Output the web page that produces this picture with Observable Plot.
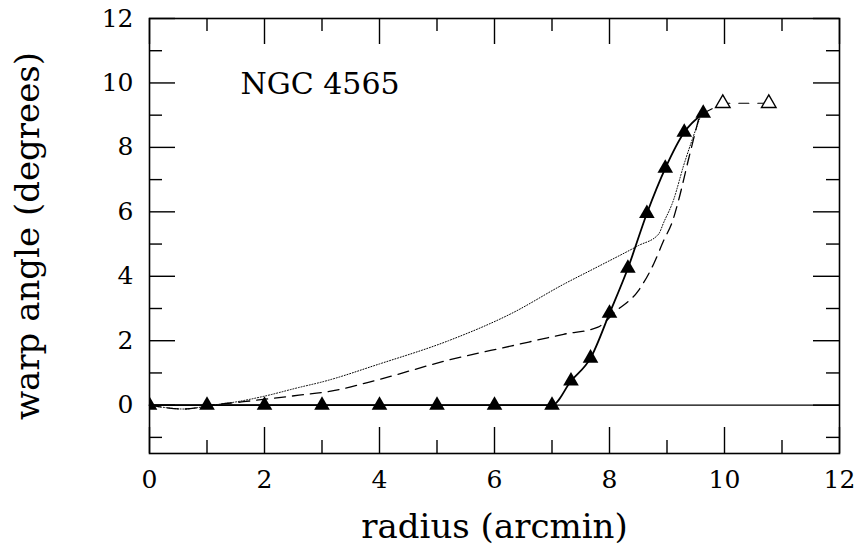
<!DOCTYPE html>
<html>
<head>
<meta charset="utf-8">
<script src="https://cdn.jsdelivr.net/npm/d3@7"></script>
<script src="https://cdn.jsdelivr.net/npm/@observablehq/plot@0.6"></script>
<style>
  html, body { margin: 0; padding: 0; background: #fff; }
</style>
</head>
<body>
<div id="chart"></div>
<script>
// ---- data ----
const titleText = "NGC 4565";
const xTitle = "radius (arcmin)";
const yTitle = "warp angle (degrees)";

// observed warp (filled triangles)
const obsRadius = [0, 1, 2, 3, 4, 5, 6, 7, 7.33, 7.67, 8.0, 8.32, 8.65, 8.97, 9.30, 9.63];
const obsWarp   = [0, 0, 0, 0, 0, 0, 0, 0, 0.75, 1.46, 2.85, 4.25, 5.95, 7.35, 8.47, 9.06];

// uncertain outer points (open triangles)
const openRadius = [9.97, 10.77];
const openWarp   = [9.37, 9.37];

// model curve, dotted
const dotRadius = [0, 0.3, 0.6, 0.9, 1.1, 1.5, 2, 2.6, 3, 4, 5.2, 6.3, 7.2, 7.8, 8.5, 8.85, 8.95, 9.1, 9.3, 9.45, 9.6];
const dotWarp   = [0, -0.08, -0.12, -0.06, 0, 0.1, 0.28, 0.55, 0.72, 1.28, 2.0, 2.85, 3.75, 4.3, 4.95, 5.3, 5.7, 6.3, 7.5, 8.3, 9.05];

// model curve, dashed
const dashRadius = [0, 0.3, 0.6, 0.9, 1.1, 1.6, 2.6, 3.2, 4, 5.2, 6.3, 7.2, 7.8, 8.1, 8.5, 8.77, 8.94, 9.1, 9.2, 9.37, 9.5, 9.58];
const dashWarp   = [0, -0.08, -0.12, -0.06, 0, 0.1, 0.31, 0.45, 0.8, 1.4, 1.84, 2.2, 2.42, 2.9, 3.55, 4.39, 5.1, 5.73, 6.35, 7.6, 8.53, 9.09];

// axes
const xDomain = [0, 12];
const yDomain = [-1.5, 12];
const xMajor = [0, 2, 4, 6, 8, 10, 12];
const xMinor = [1, 3, 5, 7, 9, 11];
const yMajor = [0, 2, 4, 6, 8, 10, 12];
const yMinor = [-1, 1, 3, 5, 7, 9, 11];

// ---- build tables ----
const zip = (xs, ys) => xs.map((x, i) => ({x, y: ys[i]}));
const obs = zip(obsRadius, obsWarp);
const open = zip(openRadius, openWarp);
const outerLink = [obs[obs.length - 1], ...open];
const dotted = zip(dotRadius, dotWarp);
const dashed = zip(dashRadius, dashWarp);

const W = 858, H = 550;
const mL = 149, mR = 19, mT = 18, mB = 97;
const pW = W - mL - mR, pH = H - mT - mB;
const majorLen = 26, minorLen = 13;
const font = "DejaVu Serif";

const plot = Plot.plot({
  width: W,
  height: H,
  marginLeft: mL,
  marginRight: mR,
  marginTop: mT,
  marginBottom: mB,
  style: {fontFamily: font, background: "#fff", color: "#000"},
  x: {domain: xDomain},
  y: {domain: yDomain},
  marks: [
    // zero line
    Plot.ruleY([0], {stroke: "#000", strokeWidth: 1.3}),
    // model curves
    Plot.line(dotted, {x: "x", y: "y", curve: "monotone-x", stroke: "#000", strokeWidth: 1, strokeDasharray: "1,1.8", clip: true}),
    Plot.line(dashed, {x: "x", y: "y", curve: "monotone-x", stroke: "#000", strokeWidth: 1.3, strokeDasharray: "11,7", clip: true}),
    // observed
    Plot.line(obs, {x: "x", y: "y", curve: "monotone-x", stroke: "#000", strokeWidth: 1.8}),
    Plot.line(outerLink, {x: "x", y: "y", stroke: "#000", strokeWidth: 1.2, strokeDasharray: "10,9"}),
    Plot.dot(obs, {x: "x", y: "y", symbol: "triangle", r: 5.8, fill: "#000", stroke: "none", clip: true}),
    Plot.dot(open, {x: "x", y: "y", symbol: "triangle", r: 5.4, fill: "#fff", stroke: "#000", strokeWidth: 1.4}),
    // inward ticks on all four sides
    Plot.ruleX(xMajor, {x: d => d, insetTop: pH - majorLen, stroke: "#000", strokeWidth: 1.4}),
    Plot.ruleX(xMinor, {x: d => d, insetTop: pH - minorLen, stroke: "#000", strokeWidth: 1.4}),
    Plot.ruleX(xMajor, {x: d => d, insetBottom: pH - majorLen, stroke: "#000", strokeWidth: 1.4}),
    Plot.ruleX(xMinor, {x: d => d, insetBottom: pH - minorLen, stroke: "#000", strokeWidth: 1.4}),
    Plot.ruleY(yMajor, {y: d => d, insetRight: pW - majorLen, stroke: "#000", strokeWidth: 1.4}),
    Plot.ruleY(yMinor, {y: d => d, insetRight: pW - minorLen, stroke: "#000", strokeWidth: 1.4}),
    Plot.ruleY(yMajor, {y: d => d, insetLeft: pW - majorLen, stroke: "#000", strokeWidth: 1.4}),
    Plot.ruleY(yMinor, {y: d => d, insetLeft: pW - minorLen, stroke: "#000", strokeWidth: 1.4}),
    // tick labels
    Plot.axisX({ticks: xMajor, tickSize: 0, tickPadding: 17, fontSize: 25, label: null, tickFormat: d => String(d)}),
    Plot.axisY({ticks: yMajor, tickSize: 0, tickPadding: 16, fontSize: 25, label: null, tickFormat: d => String(d)}),
    // frame
    Plot.frame({stroke: "#000", strokeWidth: 1.6}),
    // annotation
    Plot.text([titleText], {frameAnchor: "top-left", textAnchor: "start", lineAnchor: "bottom", dx: 91, dy: 75, fontSize: 30, fill: "#000"}),
    // axis titles
    Plot.text([xTitle], {frameAnchor: "bottom", lineAnchor: "bottom", dy: 84, fontSize: 34, fill: "#000"}),
    Plot.text([yTitle], {frameAnchor: "left", textAnchor: "middle", lineAnchor: "bottom", rotate: -90, dx: -111, fontSize: 34, fill: "#000"})
  ]
});

document.getElementById("chart").appendChild(plot);
</script>
</body>
</html>
